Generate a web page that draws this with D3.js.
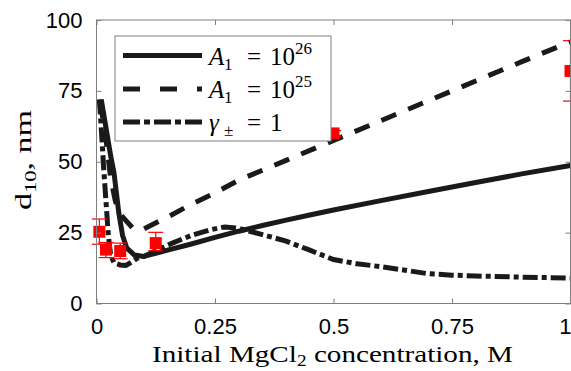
<!DOCTYPE html>
<html><head><meta charset="utf-8">
<script src="https://cdn.jsdelivr.net/npm/d3@7"></script>
<style>body{margin:0;background:#fff}svg{display:block}</style>
</head><body>
<svg id="c" width="571" height="371"></svg>
<script>
// ---- data ----
const xTicks = [0, 0.25, 0.5, 0.75, 1];
const xTickLabels = ["0", "0.25", "0.5", "0.75", "1"];
const yTicks = [0, 25, 50, 75, 100];
const yTickLabels = ["0", "25", "50", "75", "100"];

const solidX = [0.01, 0.02, 0.03, 0.037, 0.047, 0.055, 0.064, 0.08, 0.1, 0.15, 0.2, 0.25, 0.3, 0.35, 0.4, 0.45, 0.5, 0.6, 0.7, 0.8, 0.9, 1.0];
const solidY = [72, 62, 52, 46, 32, 24, 19.5, 17.1, 16.6, 18.8, 21, 23.3, 25.5, 27.5, 29.4, 31.2, 33, 36.3, 39.5, 42.7, 45.8, 48.7];

const dashX = [0.008, 0.02, 0.03, 0.04, 0.05, 0.064, 0.08, 0.1, 0.15, 0.2, 0.25, 0.3, 0.4, 0.5, 0.6, 0.7, 0.8, 0.9, 1.0];
const dashY = [71, 58, 44, 36, 31.5, 28.9, 26, 26.3, 30.5, 35, 39, 43.5, 50.5, 57.5, 64.5, 71.5, 78.5, 85.5, 92.3];

const dotX = [0.006, 0.01, 0.015, 0.02, 0.025, 0.03, 0.037, 0.05, 0.062, 0.075, 0.085, 0.1, 0.13, 0.16, 0.2, 0.24, 0.27, 0.3, 0.35, 0.4, 0.45, 0.5, 0.55, 0.6, 0.7, 0.75, 0.8, 0.9, 1.0];
const dotY = [72, 62, 48, 36, 24, 17, 14.3, 13.6, 13.4, 14.7, 15.9, 16.6, 19, 21.3, 24, 26, 27, 26.5, 24.3, 22, 18.8, 15.5, 14, 13, 10.5, 10, 9.7, 9.3, 9];

const expX = [0.006, 0.02, 0.05, 0.125, 0.5, 1.0];
const expY = [25.3, 19, 18.5, 21.3, 60, 82];
const expLo = [20.9, 16.2, 15.8, 18.6, 59, 71.4];
const expHi = [29.8, 21.5, 21.3, 25.1, 61, 92.7];

const seriesNames = ["A1e26", "A1e25", "gamma"];

// ---- layout ----
const svg = d3.select("#c");
const L = 96.5, R = 570.5, T = 20, B = 303.5;
const x = d3.scaleLinear().domain([0, 1]).range([L, R]);
const y = d3.scaleLinear().domain([0, 100]).range([B, T]);
const axisCol = "#7f7f7f";
const tickFont = "'Liberation Sans', Arial, sans-serif";
const serif = "'Liberation Serif', 'DejaVu Serif', serif";

svg.append("defs").append("clipPath").attr("id", "pc")
  .append("rect").attr("x", L).attr("y", T).attr("width", R - L).attr("height", B - T);

const lineGen = (xs, ys) => d3.line().x((d, i) => x(xs[i])).y((d, i) => y(ys[i]))(ys);

const g = svg.append("g").attr("clip-path", "url(#pc)");
const lw = 5;
g.append("path").attr("d", lineGen(dotX, dotY)).attr("fill", "none").attr("stroke", "#1a1a1a")
  .attr("stroke-width", lw).attr("stroke-dasharray", "15,4,5,4");
g.append("path").attr("d", lineGen(dashX, dashY)).attr("fill", "none").attr("stroke", "#1a1a1a")
  .attr("stroke-width", lw).attr("stroke-dasharray", "16,13");
g.append("path").attr("d", lineGen(solidX, solidY)).attr("fill", "none").attr("stroke", "#1a1a1a")
  .attr("stroke-width", lw).attr("stroke-linejoin", "round");

// experimental points
const eg = svg.append("g");
const cap = 7.5, sq = 12;
expX.forEach((xv, i) => {
  const cx = x(xv);
  eg.append("line").attr("x1", cx).attr("x2", cx).attr("y1", y(expLo[i])).attr("y2", y(expHi[i]))
    .attr("stroke", "#ff0000").attr("stroke-width", 1.2);
  [expLo[i], expHi[i]].forEach(v => eg.append("line").attr("x1", cx - cap).attr("x2", cx + cap)
    .attr("y1", y(v)).attr("y2", y(v)).attr("stroke", "#ff0000").attr("stroke-width", 1.2));
  eg.append("rect").attr("x", cx - sq / 2).attr("y", y(expY[i]) - sq / 2).attr("width", sq).attr("height", sq)
    .attr("fill", "#ff0000");
});

// axes box
svg.append("rect").attr("x", L).attr("y", T).attr("width", R - L).attr("height", B - T)
  .attr("fill", "none").attr("stroke", axisCol).attr("stroke-width", 1);

const xAxisB = d3.axisBottom(x).tickValues(xTicks).tickFormat((d, i) => xTickLabels[i]).tickSizeInner(-5).tickSizeOuter(0).tickPadding(15);
const xAxisT = d3.axisTop(x).tickValues(xTicks).tickFormat("").tickSizeInner(-5).tickSizeOuter(0);
const yAxisL = d3.axisLeft(y).tickValues(yTicks).tickFormat((d, i) => yTickLabels[i]).tickSizeInner(-5).tickSizeOuter(0).tickPadding(14);
const yAxisR = d3.axisRight(y).tickValues(yTicks).tickFormat("").tickSizeInner(-5).tickSizeOuter(0);

function styleAxis(sel) {
  sel.select(".domain").remove();
  sel.selectAll(".tick line").attr("stroke", axisCol);
  sel.selectAll(".tick text").attr("fill", "#000").style("font-family", tickFont).style("font-size", "22px");
}
const xb = svg.append("g").attr("transform", `translate(0,${B})`).call(xAxisB).call(styleAxis);
// keep the last label inside the picture
xb.selectAll(".tick text").filter(d => d === 1).attr("text-anchor", "end").attr("dx", 0.5);
svg.append("g").attr("transform", `translate(0,${T})`).call(xAxisT).call(styleAxis);
svg.append("g").attr("transform", `translate(${L},0)`).call(yAxisL).call(styleAxis);
svg.append("g").attr("transform", `translate(${R},0)`).call(yAxisR).call(styleAxis);

// axis labels
const xl = svg.append("text").attr("x", 152).attr("y", 362)
  .style("font-family", serif).style("font-size", "24px").attr("fill", "#000")
  .attr("textLength", 361).attr("lengthAdjust", "spacingAndGlyphs");
xl.append("tspan").text("Initial MgCl");
xl.append("tspan").attr("dy", 4).style("font-size", "16px").text("2");
xl.append("tspan").attr("dy", -4).text(" concentration, M");

const yl = svg.append("text").attr("transform", "translate(31,210) rotate(-90)")
  .style("font-family", serif).style("font-size", "24px").attr("fill", "#000")
  .attr("textLength", 100).attr("lengthAdjust", "spacingAndGlyphs");
yl.append("tspan").text("d");
yl.append("tspan").attr("dy", 5).style("font-size", "16px").text("10");
yl.append("tspan").attr("dy", -5).text(", nm");

// legend
const lg = svg.append("g");
lg.append("rect").attr("x", 115).attr("y", 36).attr("width", 216).attr("height", 105)
  .attr("fill", "#fff").attr("stroke", axisCol).attr("stroke-width", 1);
const rowsY = [55.5, 89, 122];
const dashes = [null, "17,20", "17,4,6,4"];
rowsY.forEach((ry, i) => {
  const ln = lg.append("line").attr("x1", 123).attr("x2", 202).attr("y1", ry).attr("y2", ry)
    .attr("stroke", "#1a1a1a").attr("stroke-width", lw);
  if (dashes[i]) ln.attr("stroke-dasharray", dashes[i]);
});
function txt(xp, yp, s, size, italic) {
  const t = lg.append("text").attr("x", xp).attr("y", yp).style("font-family", serif)
    .style("font-size", size + "px").attr("fill", "#000").text(s);
  if (italic) t.style("font-style", "italic");
  return t;
}
function legRow(ry, main, sub, rhs, sup) {
  const base = ry + 9;
  txt(209, base, main, 25, true);
  txt(224, base + 5, sub, 17, false);
  txt(247, base, "=", 25, false);
  txt(270, base, rhs, 25, false);
  if (sup) txt(295, base - 11, sup, 17, false);
}
legRow(rowsY[0], "A", "1", "10", "26");
legRow(rowsY[1], "A", "1", "10", "25");
legRow(rowsY[2], "γ", "±", "1", null);
</script>
</body></html>
